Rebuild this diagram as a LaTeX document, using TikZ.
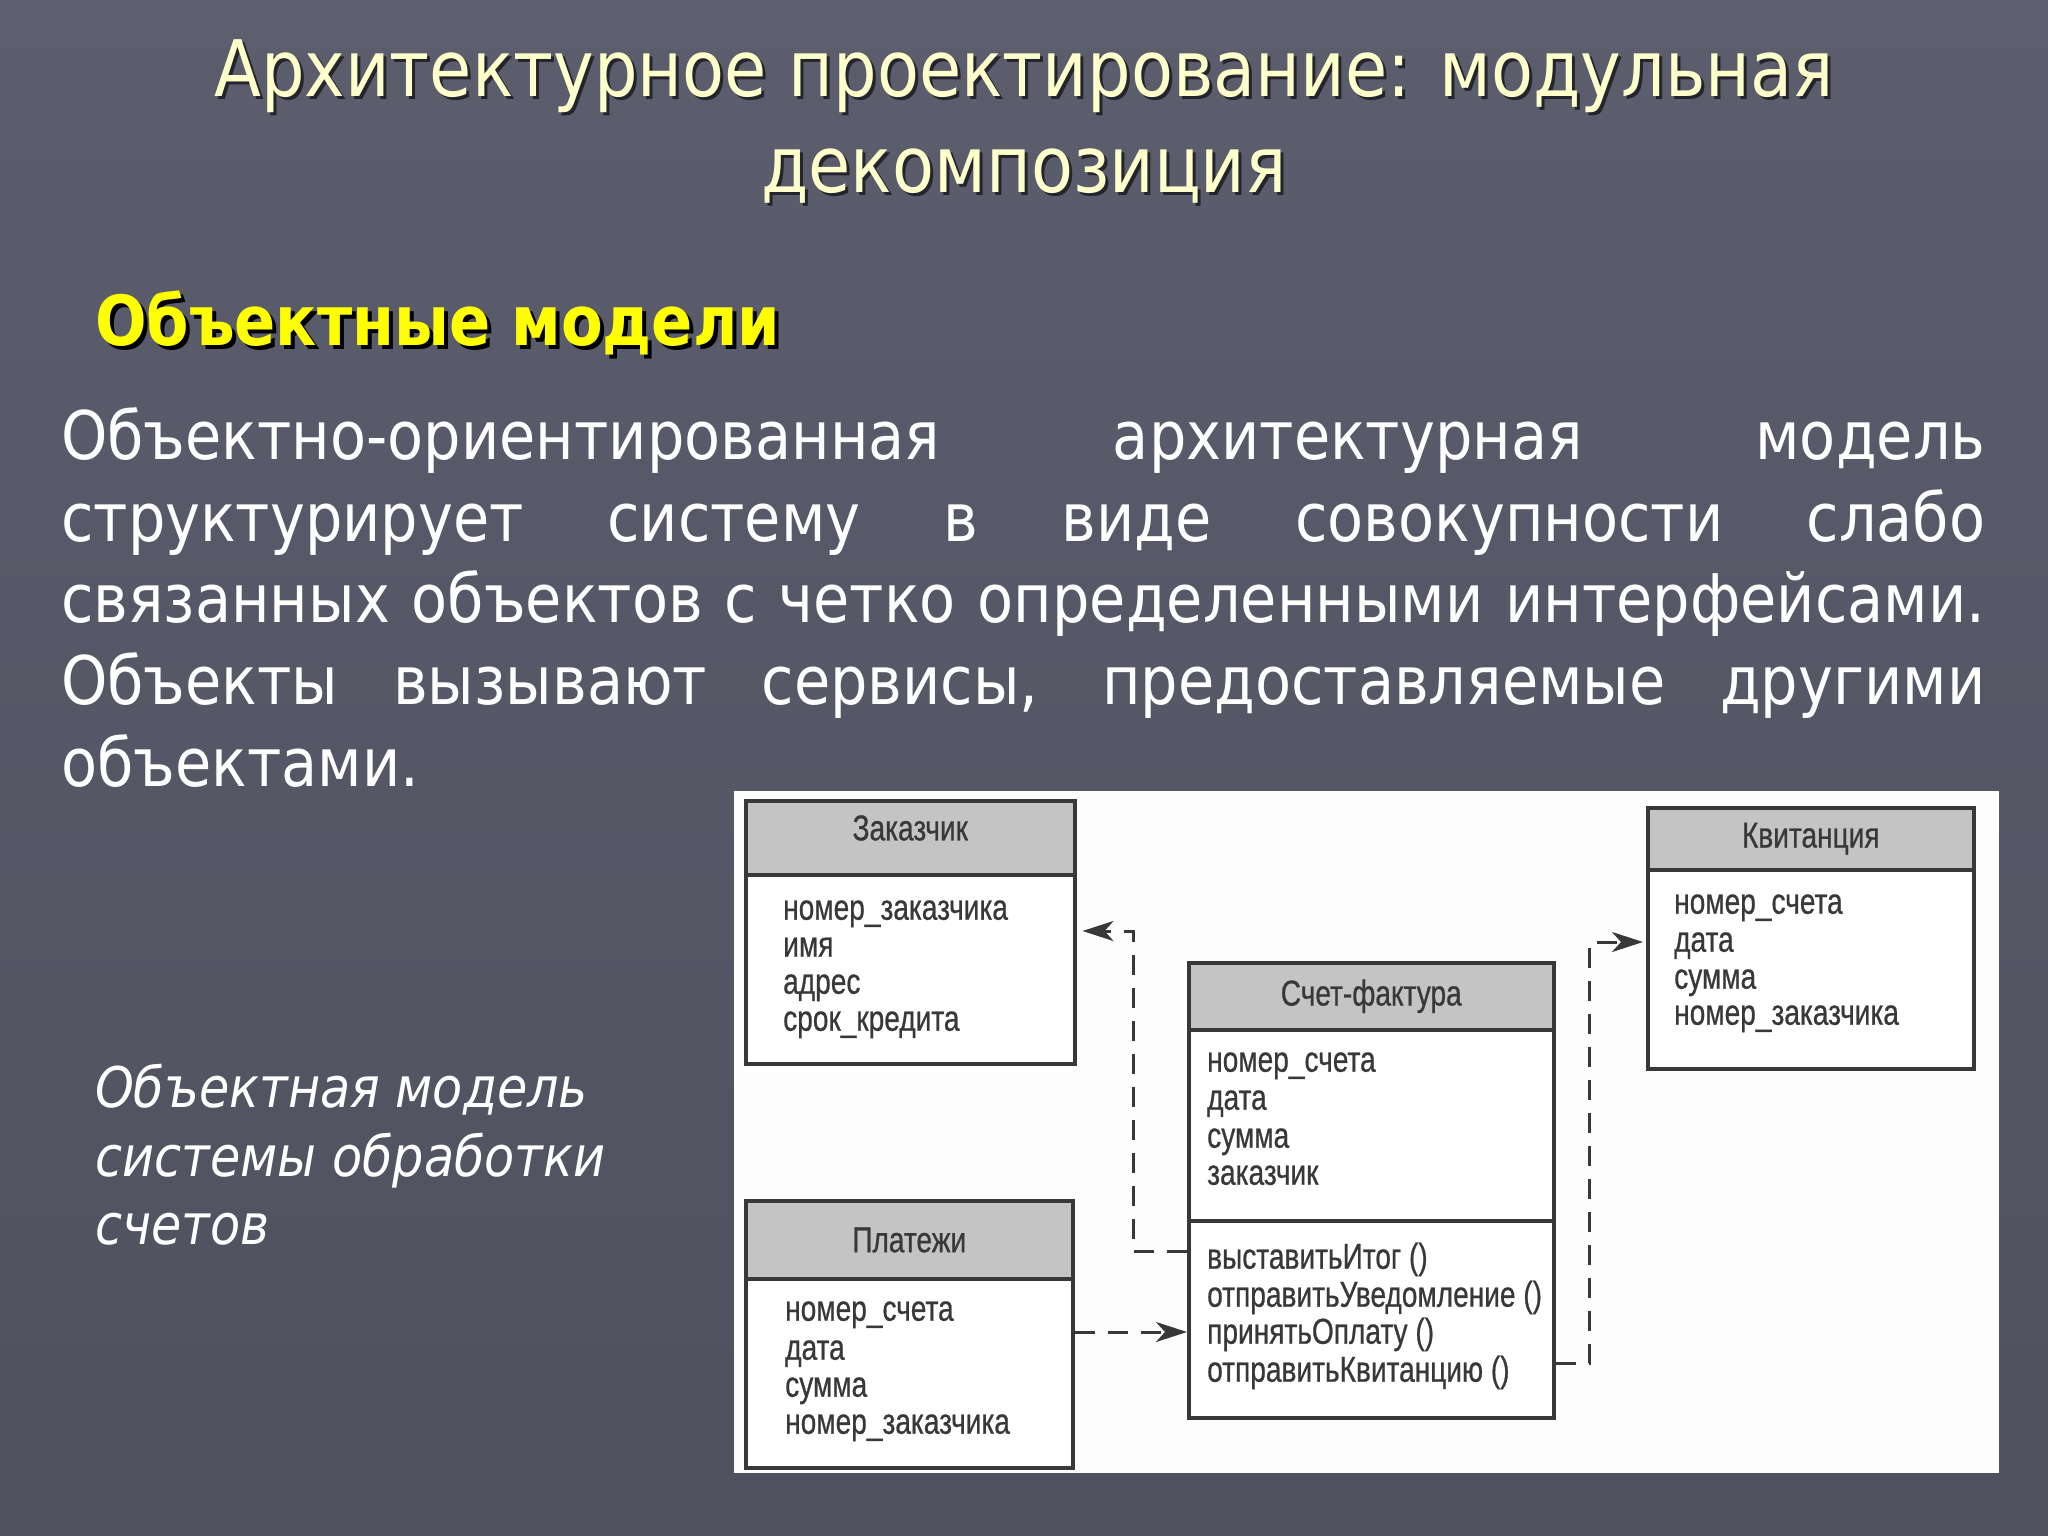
\documentclass[tikz,border=0pt]{standalone}
\usepackage{fontspec}
\setmainfont{DejaVu Sans}[FakeStretch=0.88]
\newfontfamily\diagfont{Liberation Sans}[FakeStretch=0.78,FakeBold=0.6]
\usetikzlibrary{arrows.meta}
\definecolor{bgtop}{HTML}{5C5D6D}
\definecolor{bgbot}{HTML}{50515E}
\definecolor{titlecol}{HTML}{FFFFCC}
\definecolor{shadowcol}{HTML}{24242C}
\definecolor{subcol}{HTML}{FFFF00}
\definecolor{ink}{HTML}{383838}
\definecolor{hdrfill}{HTML}{C4C4C4}
\definecolor{panelcol}{HTML}{FDFDFD}
\begin{document}
\begin{tikzpicture}[x=1pt,y=-1pt,
  titletext/.style={inner sep=0, anchor=mid, font=\fontsize{78}{90}\selectfont},
  subtext/.style={inner sep=0, anchor=mid west, font=\bfseries\fontsize{69}{80}\selectfont},
  bodytext/.style={inner sep=0, anchor=mid west, text=white, font=\fontsize{67}{80}\selectfont},
  captext/.style={inner sep=0, anchor=mid west, text=white, font=\itshape\fontsize{56}{68}\selectfont},
  hdr/.style={draw=ink, line width=3.5pt, fill=hdrfill, anchor=north west, inner sep=0,
    text=ink, font=\diagfont\fontsize{36}{36}\selectfont},
  bodybox/.style={draw=ink, line width=3.5pt, fill=white, anchor=north west, inner sep=0},
  attr/.style={anchor=mid west, inner sep=0, text=ink, font=\diagfont\fontsize{36}{36}\selectfont},
  conn/.style={draw=ink, line width=3pt, dash pattern=on 20pt off 13pt},
  arr/.style={-{Stealth[length=31pt,width=20pt,inset=9pt]}}
]
\useasboundingbox (0,0) rectangle (2048,1536);
\shade[top color=bgtop, bottom color=bgbot] (0,0) rectangle (2048,1536);

% title
\node[titletext, text=shadowcol] (t1s) at (1027,97) {Архитектурное проектирование: модульная};
\node[titletext, text=titlecol] (t1) at (1024,94) {Архитектурное проектирование: модульная};
\node[titletext, text=shadowcol] (t2s) at (1027,193) {декомпозиция};
\node[titletext, text=titlecol] (t2) at (1024,190) {декомпозиция};

% subheading
\node[subtext, text=black] (subs) at (99,347) {Объектные модели};
\node[subtext, text=subcol] (sub) at (95,343) {Объектные модели};

% body
\node[bodytext] (b1) at (61,457) {\makebox[1924pt][s]{Объектно-ориентированная архитектурная модель}};
\node[bodytext] (b2) at (61,539) {\makebox[1924pt][s]{структурирует систему в виде совокупности слабо}};
\node[bodytext] (b3) at (61,620) {\makebox[1924pt][s]{связанных объектов с четко определенными интерфейсами.}};
\node[bodytext] (b4) at (61,702) {\makebox[1924pt][s]{Объекты вызывают сервисы, предоставляемые другими}};
\node[bodytext] (b5) at (61,784) {объектами.};

% caption
\node[captext] (c1) at (95,1105) {Объектная модель};
\node[captext] (c2) at (95,1174) {системы обработки};
\node[captext] (c3) at (95,1242) {счетов};

% panel
\fill[panelcol] (734,791) rectangle (1999,1473);

% Заказчик
\node[hdr, minimum width=329pt, minimum height=74pt] (zkh) at (744,799) {};
\node[attr, anchor=center] (zkt) at (zkh.center |- 0,828) {Заказчик};
\node[bodybox, minimum width=329pt, minimum height=189pt] (zkb) at (744,873) {};
\node[attr] (zk1) at (783,917) {номер\_заказчика};
\node[attr] (zk2) at (783,954) {имя};
\node[attr] (zk3) at (783,991) {адрес};
\node[attr] (zk4) at (783,1028) {срок\_кредита};

% Платежи
\node[hdr, minimum width=327pt, minimum height=78pt] (plh) at (744,1199) {};
\node[attr, anchor=center] (plt) at (plh.center |- 0,1240) {Платежи};
\node[bodybox, minimum width=327pt, minimum height=189pt] (plb) at (744,1277) {};
\node[attr] (pl1) at (785,1318) {номер\_счета};
\node[attr] (pl2) at (785,1357) {дата};
\node[attr] (pl3) at (785,1394) {сумма};
\node[attr] (pl4) at (785,1431) {номер\_заказчика};

% Счет-фактура
\node[hdr, minimum width=365pt, minimum height=67pt] (sfh) at (1187,961) {Счет-фактура};
\node[bodybox, minimum width=365pt, minimum height=191pt] (sfa) at (1187,1028) {};
\node[bodybox, minimum width=365pt, minimum height=197pt] (sfm) at (1187,1219) {};
\node[attr] (sf1) at (1207,1069) {номер\_счета};
\node[attr] (sf2) at (1207,1107) {дата};
\node[attr] (sf3) at (1207,1145) {сумма};
\node[attr] (sf4) at (1207,1182) {заказчик};
\node[attr] (sm1) at (1207,1266) {выставитьИтог ()};
\node[attr] (sm2) at (1207,1304) {отправитьУведомление ()};
\node[attr] (sm3) at (1207,1341) {принятьОплату ()};
\node[attr] (sm4) at (1207,1379) {отправитьКвитанцию ()};

% Квитанция
\node[hdr, minimum width=326pt, minimum height=62pt] (kvh) at (1646,806) {Квитанция};
\node[bodybox, minimum width=326pt, minimum height=199pt] (kvb) at (1646,868) {};
\node[attr] (kv1) at (1674,911) {номер\_счета};
\node[attr] (kv2) at (1674,949) {дата};
\node[attr] (kv3) at (1674,986) {сумма};
\node[attr] (kv4) at (1674,1022) {номер\_заказчика};

% connectors
\coordinate (a1) at (sfm.west |- 0,1251);
\coordinate (a2) at (1133,931);
\draw[conn, arr, shorten >=6pt] (a1) -| (a2) -- (zkb.east |- a2);

\coordinate (bb) at (1100,1332);
\draw[conn, arr] (plb.east |- bb) -- (sfm.west |- bb);

\coordinate (k1) at (sfm.east |- 0,1363);
\coordinate (k2) at (1589,942);
\draw[conn, arr, shorten >=3pt] (k1) -| (k2) -- (kvb.west |- k2);
\end{tikzpicture}
\end{document}
